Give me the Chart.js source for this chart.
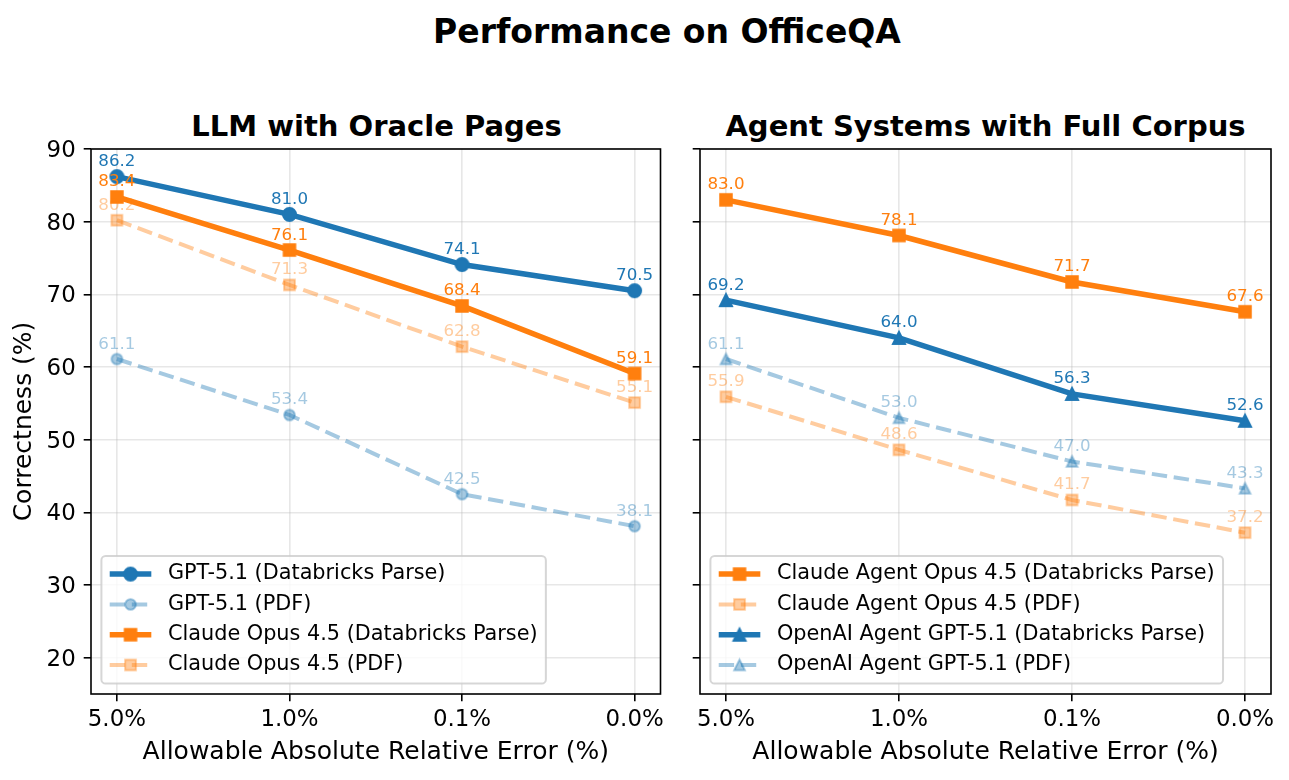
<!DOCTYPE html>
<html><head><meta charset="utf-8">
<script src="https://cdn.jsdelivr.net/npm/chart.js@4.4.1/dist/chart.umd.min.js"></script>
<style>
html,body{margin:0;padding:0;background:#fff;}
body{width:1289px;height:780px;position:relative;overflow:hidden;font-family:"DejaVu Sans";}
.t{position:absolute;font-weight:bold;color:#000;white-space:nowrap;transform:translateX(-50%);line-height:1;}
canvas{position:absolute;top:0;}
</style></head><body>
<div class="t" style="left:667px;top:14.6px;font-size:33px">Performance on OfficeQA</div>
<div class="t" style="left:376.5px;top:112.3px;font-size:29px">LLM with Oracle Pages</div>
<div class="t" style="left:985.5px;top:112.3px;font-size:29px">Agent Systems with Full Corpus</div>
<canvas id="c1" width="672" height="780" style="left:0"></canvas>
<canvas id="c2" width="617" height="780" style="left:672px"></canvas>
<script>
// ---- data ----
const xLabels = ['5.0%', '1.0%', '0.1%', '0.0%'];
const xPos = [0, 1, 2, 3];
const yTicks = [20, 30, 40, 50, 60, 70, 80, 90];

const gptDP = [86.2, 81.0, 74.1, 70.5];
const gptPDF = [61.1, 53.4, 42.5, 38.1];
const opusDP = [83.4, 76.1, 68.4, 59.1];
const opusPDF = [80.2, 71.3, 62.8, 55.1];

const agentOpusDP = [83.0, 78.1, 71.7, 67.6];
const agentOpusPDF = [55.9, 48.6, 41.7, 37.2];
const agentGptDP = [69.2, 64.0, 56.3, 52.6];
const agentGptPDF = [61.1, 53.0, 47.0, 43.3];

const leftNames = ['GPT-5.1 (Databricks Parse)', 'GPT-5.1 (PDF)', 'Claude Opus 4.5 (Databricks Parse)', 'Claude Opus 4.5 (PDF)'];
const rightNames = ['Claude Agent Opus 4.5 (Databricks Parse)', 'Claude Agent Opus 4.5 (PDF)', 'OpenAI Agent GPT-5.1 (Databricks Parse)', 'OpenAI Agent GPT-5.1 (PDF)'];

// ---- styles ----
const FONT = 'DejaVu Sans';
const BLUE = '#1f77b4', ORANGE = '#ff7f0e';
const BLUE_A = 'rgba(31,119,180,0.4)', ORANGE_A = 'rgba(255,127,14,0.4)';
const GRID = 'rgba(176,176,176,0.3)';

function marker(shape, size, fill, stroke, lw) {
  const pad = Math.ceil(lw) + 3;
  const d = Math.ceil(size + 2 * pad);
  const c = document.createElement('canvas');
  c.width = d; c.height = d;
  const g = c.getContext('2d');
  const cx = d / 2, cy = d / 2, h = size / 2;
  g.beginPath();
  if (shape === 'circle') g.arc(cx, cy, h, 0, Math.PI * 2);
  else if (shape === 'square') g.rect(cx - h, cy - h, size, size);
  else { g.moveTo(cx, cy - h); g.lineTo(cx - h, cy + h); g.lineTo(cx + h, cy + h); g.closePath(); }
  g.fillStyle = fill; g.fill();
  g.lineWidth = lw; g.strokeStyle = stroke; g.lineJoin = 'miter'; g.stroke();
  return c;
}

function series(name, values, solid, color, shape) {
  const col = solid ? color : (color === BLUE ? BLUE_A : ORANGE_A);
  const size = solid ? (shape === 'circle' ? 13 : (shape === 'square' ? 11.5 : 12)) : 10.7;
  return {
    label: name,
    data: values.map((v, i) => ({ x: xPos[i], y: v })),
    borderColor: col,
    borderWidth: solid ? 5.5 : 4,
    borderDash: solid ? [] : [15.4, 6.7],
    pointStyle: marker(shape, size, col, col, 2),
    pointRadius: 6,
    pointHoverRadius: 6,
    fill: false,
    tension: 0,
    valueColor: col,
    solid: solid
  };
}

const framePlugin = {
  id: 'frameAndLabels',
  afterDatasetsDraw(chart) {
    const { ctx, chartArea: a } = chart;
    ctx.save();
    ctx.strokeStyle = '#000';
    ctx.lineWidth = 1.6;
    ctx.strokeRect(a.left, a.top, a.right - a.left, a.bottom - a.top);
    ctx.restore();
    // value labels
    ctx.save();
    ctx.font = '16.7px "' + FONT + '"';
    ctx.textAlign = 'center';
    ctx.textBaseline = 'alphabetic';
    chart.data.datasets.forEach((ds, di) => {
      const meta = chart.getDatasetMeta(di);
      ctx.fillStyle = ds.valueColor;
      meta.data.forEach((pt, i) => {
        ctx.fillText(ds.data[i].y.toFixed(1), pt.x, pt.y - 10.5);
      });
    });
    ctx.restore();
  },
  afterDraw(chart) {
    const { ctx, chartArea: a } = chart;
    const fs = 20.8;
    ctx.save();
    ctx.font = fs + 'px "' + FONT + '"';
    let maxW = 0;
    chart.data.datasets.forEach(ds => { maxW = Math.max(maxW, ctx.measureText(ds.label).width); });
    const bp = 0.4 * fs, hl = 2 * fs, hp = 0.8 * fs;
    const w = bp + hl + hp + maxW + bp;
    const h = 127.5;
    const left = a.left + 0.5 * fs;
    const bottom = a.bottom - 0.5 * fs;
    const top = bottom - h;
    const r = 0.2 * fs;
    ctx.beginPath();
    ctx.roundRect(left, top, w, h, r);
    ctx.fillStyle = 'rgba(255,255,255,0.8)';
    ctx.fill();
    ctx.strokeStyle = 'rgba(204,204,204,0.8)';
    ctx.lineWidth = 2;
    ctx.stroke();
    chart.data.datasets.forEach((ds, i) => {
      const y = top + 18 + i * 30.3;
      const x0 = left + bp, x1 = x0 + hl;
      ctx.save();
      ctx.beginPath();
      ctx.moveTo(x0, y); ctx.lineTo(x1, y);
      ctx.strokeStyle = ds.borderColor;
      ctx.lineWidth = ds.borderWidth;
      ctx.setLineDash(ds.borderDash);
      ctx.stroke();
      ctx.restore();
      const m = ds.pointStyle;
      ctx.drawImage(m, (x0 + x1) / 2 - m.width / 2, y - m.height / 2);
      ctx.fillStyle = '#000';
      ctx.textAlign = 'left';
      ctx.textBaseline = 'middle';
      ctx.fillText(ds.label, x1 + hp, y);
    });
    ctx.restore();
  }
};

function makeChart(id, datasets, opt) {
  datasets.forEach((d, i) => { d.order = datasets.length - i; });
  return new Chart(document.getElementById(id), {
    type: 'line',
    data: { datasets },
    options: {
      responsive: false,
      animation: false,
      devicePixelRatio: 1,
      layout: { padding: { top: 149, right: opt.padRight, left: 0, bottom: 0 } },
      plugins: { legend: { display: false }, tooltip: { enabled: false }, title: { display: false } },
      scales: {
        x: {
          type: 'linear', min: -0.15, max: 3.15,
          afterBuildTicks: s => { s.ticks = xPos.map(v => ({ value: v })); },
          afterFit: s => { s.height = 86; },
          ticks: { callback: (v, i) => xLabels[i], font: { family: FONT, size: 22.9 }, color: '#000', padding: 5, maxRotation: 0, autoSkip: false },
          grid: { color: GRID, lineWidth: 1.6, tickColor: '#000', tickLength: 7.3, tickWidth: 1.6 },
          border: { display: false },
          title: { display: true, text: 'Allowable Absolute Relative Error (%)', font: { family: FONT, size: 25, lineHeight: 1.2 }, color: '#000', padding: { top: 0, bottom: 13 } }
        },
        y: {
          type: 'linear', min: 15, max: 90,
          afterBuildTicks: s => { s.ticks = yTicks.map(v => ({ value: v })); },
          afterFit: s => { s.width = opt.yWidth; },
          ticks: { callback: v => opt.showY ? String(v) : '', font: { family: FONT, size: 22.9 }, color: '#000', padding: 8, labelOffset: 2 },
          grid: { color: GRID, lineWidth: 1.6, tickColor: '#000', tickLength: 7.3, tickWidth: 1.6 },
          border: { display: false },
          title: { display: opt.showY, text: 'Correctness (%)', font: { family: FONT, size: 25, lineHeight: 1.2 }, color: '#000', padding: { top: 9.7, bottom: 0 } }
        }
      }
    },
    plugins: [framePlugin]
  });
}

makeChart('c1', [
  series(leftNames[0], gptDP, true, BLUE, 'circle'),
  series(leftNames[1], gptPDF, false, BLUE, 'circle'),
  series(leftNames[2], opusDP, true, ORANGE, 'square'),
  series(leftNames[3], opusPDF, false, ORANGE, 'square')
], { padRight: 10, yWidth: 91, showY: true });

makeChart('c2', [
  series(rightNames[0], agentOpusDP, true, ORANGE, 'square'),
  series(rightNames[1], agentOpusPDF, false, ORANGE, 'square'),
  series(rightNames[2], agentGptDP, true, BLUE, 'triangle'),
  series(rightNames[3], agentGptPDF, false, BLUE, 'triangle')
], { padRight: 18, yWidth: 28, showY: false });
</script>
</body></html>
